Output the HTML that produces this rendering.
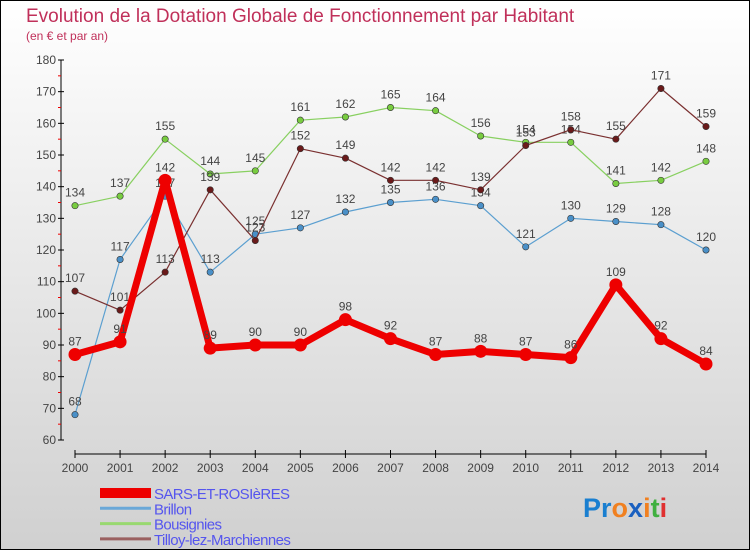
<!DOCTYPE html>
<html><head><meta charset="utf-8"><style>
body{margin:0}
svg{display:block;font-family:"Liberation Sans",sans-serif}
</style></head><body>
<svg id="c" width="750" height="550" xmlns="http://www.w3.org/2000/svg">
<defs><linearGradient id="bg" x1="0" y1="0" x2="0" y2="1"><stop offset="0" stop-color="#ffffff"/><stop offset="1" stop-color="#d0d0d0"/></linearGradient></defs>
<rect x="0.5" y="0.5" width="749" height="549" fill="url(#bg)" stroke="#000"/>
<text x="26" y="22" font-size="19" fill="#c0305a">Evolution de la Dotation Globale de Fonctionnement par Habitant</text>
<text x="26" y="40" font-size="12" fill="#c0305a">(en € et par an)</text>
<g id="axes"></g>
<g id="series"></g>
<g id="legend"></g>
<text x="583" y="517" font-size="27" font-weight="bold"><tspan fill="#1a7fd0">Pr</tspan><tspan fill="#f08020">o</tspan><tspan fill="#1a60c0">x</tspan><tspan fill="#f08020">i</tspan><tspan fill="#40b040">t</tspan><tspan fill="#e03030">i</tspan></text>
</svg>
<script>
const years=[2000,2001,2002,2003,2004,2005,2006,2007,2008,2009,2010,2011,2012,2013,2014];
const sars=[87,91,142,89,90,90,98,92,87,88,87,86,109,92,84];
const brillon=[68,117,137,113,125,127,132,135,136,134,121,130,129,128,120];
const bousignies=[134,137,155,144,145,161,162,165,164,156,154,154,141,142,148];
const tilloy=[107,101,113,139,123,152,149,142,142,139,153,158,155,171,159];
const yTicks=[60,70,80,90,100,110,120,130,140,150,160,170,180];
const NS="http://www.w3.org/2000/svg";
const x=i=>75+i*(706-75)/(years.length-1);
const y=v=>440-(v-60)*(380/120);
function mk(t,a,p){const e=document.createElementNS(NS,t);for(const k in a)e.setAttribute(k,a[k]);p.appendChild(e);return e;}
const ax=document.getElementById('axes');
let l=mk('line',{x1:61,y1:60,x2:61,y2:440,stroke:'#000'},ax);


yTicks.forEach((v,i)=>{
  mk('line',{x1:58,x2:64,y1:y(v),y2:y(v),stroke:'#000'},ax);
  if(i<yTicks.length-1){const m=mk('line',{x1:58,x2:61,y1:y(v+5),y2:y(v+5),stroke:'#e00'},ax);}
  const t=mk('text',{x:56,y:y(v)+4,'font-size':12,fill:'#444','text-anchor':'end'},ax);
  t.textContent=v;
  
  
});
l=mk('line',{x1:75,y1:454,x2:706,y2:454,stroke:'#000'},ax);


years.forEach((yr,i)=>{
  mk('line',{x1:x(i),x2:x(i),y1:450,y2:458,stroke:'#000'},ax);
  const t=mk('text',{x:x(i),y:472,'font-size':12,fill:'#444','text-anchor':'middle'},ax);
  t.textContent=yr;
  
  
});
const sg=document.getElementById('series');
function series(d,col,dot,w,r,name){
  const g=mk('g',{},sg);
  
  
  mk('polyline',{points:d.map((v,i)=>x(i)+','+y(v)).join(' '),fill:'none',stroke:col,'stroke-width':w,'stroke-linejoin':'round'},g);
  d.forEach((v,i)=>{
    const c=mk('circle',{cx:x(i),cy:y(v),r:r,fill:dot,stroke:w>3?col:'#333','stroke-width':w>3?0:0.6},g);
    
    
    const t=mk('text',{x:x(i),y:y(v)-9,'font-size':12,fill:'#444','text-anchor':'middle'},g);
    t.textContent=v;
  });
}
series(brillon,'#5b9fd0','#4a90c8',1.2,3.2,'series-brillon');
series(bousignies,'#88d060','#78cc40',1.2,3.2,'series-bousignies');
series(tilloy,'#7a3030','#6a1a1a',1.2,3.2,'series-tilloy');
series(sars,'#ee0000','#ee0000',7,6.5,'series-sars');
const lg=document.getElementById('legend');
const names=['SARS-ET-ROSIèRES','Brillon','Bousignies','Tilloy-lez-Marchiennes'];
const cols=['#ee0000','#6aa8d8','#98d870','#9a6060'];
const ws=[10,3,3,3];
names.forEach((n,i)=>{
  const yy=493+i*15.3;
  const s=mk('line',{x1:100,x2:151,y1:yy,y2:yy,stroke:cols[i],'stroke-width':ws[i]},lg);
  
  
  const t=mk('text',{x:154,y:yy+6,'font-size':15,fill:'#5555ee','letter-spacing':'-0.6'},lg);
  t.textContent=n;
  
  
});
</script>
</body></html>
